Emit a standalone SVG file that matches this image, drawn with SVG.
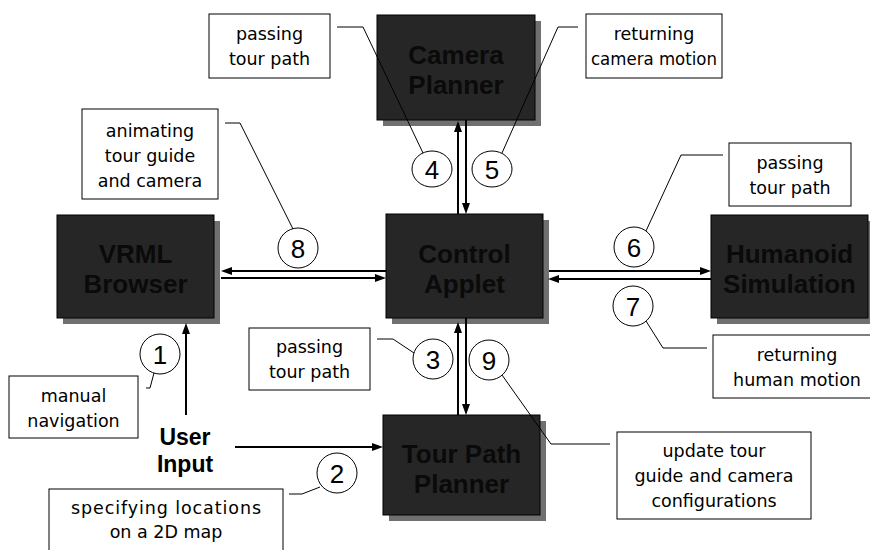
<svg xmlns="http://www.w3.org/2000/svg" width="870" height="550" viewBox="0 0 870 550">
<defs>
<marker id="ah" markerUnits="userSpaceOnUse" markerWidth="11" markerHeight="8" refX="3" refY="4" orient="auto">
<path d="M0,0 L11,4 L0,8 z" fill="#000"/>
</marker>
<style>
.shadow{fill:#707070}
.box{fill:#262626;stroke:#000;stroke-width:1}
.bl{font-family:"Liberation Sans",Arial,sans-serif;font-weight:bold;font-size:26px;fill:#0a0a0a;text-anchor:middle}
.ui{font-family:"Liberation Sans",Arial,sans-serif;font-weight:bold;font-size:23px;fill:#000;text-anchor:middle}
.arrow{fill:none;stroke:#000;stroke-width:2;marker-end:url(#ah)}
.note{fill:#fff;stroke:#000;stroke-width:1}
.nt{font-family:"DejaVu Sans",sans-serif;font-size:17.5px;fill:#000;text-anchor:middle}
.lead{fill:none;stroke:#000;stroke-width:1}
.num{fill:#fff;stroke:#000;stroke-width:1}
.nn{font-family:"Liberation Sans",Arial,sans-serif;font-size:26px;fill:#000;text-anchor:middle}
</style>
</defs>
<rect width="870" height="550" fill="#fff"/>

<g id="camera-planner">
<rect class="shadow" x="383" y="21" width="158" height="105"/>
<rect class="box" x="377" y="15" width="158" height="105"/>
<text class="bl" x="456" y="64">Camera</text>
<text class="bl" x="456" y="94">Planner</text>
</g>
<g id="vrml-browser">
<rect class="shadow" x="63" y="221" width="157" height="103"/>
<rect class="box" x="57" y="215" width="157" height="103"/>
<text class="bl" x="135.5" y="263">VRML</text>
<text class="bl" x="135.5" y="293">Browser</text>
</g>
<g id="control-applet">
<rect class="shadow" x="392" y="220" width="157" height="104"/>
<rect class="box" x="386" y="214" width="157" height="104"/>
<text class="bl" x="464.5" y="263">Control</text>
<text class="bl" x="464.5" y="293">Applet</text>
</g>
<g id="humanoid-simulation">
<rect class="shadow" x="717" y="221" width="157" height="103"/>
<rect class="box" x="711" y="215" width="157" height="103"/>
<text class="bl" x="789.5" y="263">Humanoid</text>
<text class="bl" x="789.5" y="293">Simulation</text>
</g>
<g id="tour-path-planner">
<rect class="shadow" x="389" y="421" width="157" height="100"/>
<rect class="box" x="383" y="415" width="157" height="100"/>
<text class="bl" x="461.5" y="463">Tour Path</text>
<text class="bl" x="461.5" y="493">Planner</text>
</g>
<g id="user-input">
<text class="ui" x="185" y="445">User</text>
<text class="ui" x="185" y="472">Input</text>
</g>

<g id="connectors">
<path class="arrow" d="M458,214 V129"/>
<path class="arrow" d="M466,120 V206"/>
<path class="arrow" d="M458,415 V330"/>
<path class="arrow" d="M466,318 V407"/>
<path class="arrow" d="M386,271 H229"/>
<path class="arrow" d="M221,278 H378"/>
<path class="arrow" d="M549,271 H703"/>
<path class="arrow" d="M711,279 H556"/>
<path class="arrow" d="M186,415 V331"/>
<path class="arrow" d="M235,447 H375"/>
</g>

<g id="callout-1">
<rect class="note" x="9" y="376" width="129" height="62"/>
<text class="nt" x="73.5" y="401.5">manual</text>
<text class="nt" x="73.5" y="426.5">navigation</text>
<path class="lead" d="M146,388 H150 L154,373"/>
<circle class="num" cx="160" cy="354" r="20"/>
<text class="nn" x="160" y="363.5">1</text>
</g>
<g id="callout-2">
<rect class="note" x="49" y="489" width="234" height="80"/>
<text class="nt" x="166" y="514" textLength="190" lengthAdjust="spacing">specifying locations</text>
<text class="nt" x="166" y="538">on a 2D map</text>
<path class="lead" d="M289,494 H302 L320,487"/>
<circle class="num" cx="337" cy="473" r="20"/>
<text class="nn" x="337" y="482.5">2</text>
</g>
<g id="callout-3">
<rect class="note" x="249" y="328" width="121" height="62"/>
<text class="nt" x="309.5" y="353">passing</text>
<text class="nt" x="309.5" y="378">tour path</text>
<path class="lead" d="M377,339 H393 L414,353"/>
<circle class="num" cx="433" cy="359" r="20"/>
<text class="nn" x="433" y="368.5">3</text>
</g>
<g id="callout-4">
<rect class="note" x="209" y="14" width="121" height="64"/>
<text class="nt" x="269.5" y="40">passing</text>
<text class="nt" x="269.5" y="65">tour path</text>
<path class="lead" d="M337,27 H363 L423,153"/>
<ellipse class="num" cx="432" cy="169" rx="20" ry="18"/>
<text class="nn" x="432" y="178.5">4</text>
</g>
<g id="callout-5">
<rect class="note" x="586" y="14" width="136" height="64"/>
<text class="nt" x="654" y="40">returning</text>
<text class="nt" x="654" y="65" textLength="126" lengthAdjust="spacingAndGlyphs">camera motion</text>
<path class="lead" d="M578,27 H558 L502,153"/>
<ellipse class="num" cx="492" cy="169" rx="20" ry="18"/>
<text class="nn" x="492" y="178.5">5</text>
</g>
<g id="callout-6">
<rect class="note" x="729" y="143" width="122" height="63"/>
<text class="nt" x="790" y="168.5">passing</text>
<text class="nt" x="790" y="194">tour path</text>
<path class="lead" d="M723,155 H681 L646,231"/>
<circle class="num" cx="634" cy="247" r="20"/>
<text class="nn" x="634" y="256.5">6</text>
</g>
<g id="callout-7">
<rect class="note" x="713" y="335" width="168" height="63"/>
<text class="nt" x="797" y="360.5">returning</text>
<text class="nt" x="797" y="386">human motion</text>
<path class="lead" d="M707,348 H663 L646,321"/>
<circle class="num" cx="633" cy="306" r="20"/>
<text class="nn" x="633" y="315.5">7</text>
</g>
<g id="callout-8">
<rect class="note" x="82" y="109" width="136" height="90"/>
<text class="nt" x="150" y="137">animating</text>
<text class="nt" x="150" y="162">tour guide</text>
<text class="nt" x="150" y="187">and camera</text>
<path class="lead" d="M225,123 H240 L293,229"/>
<circle class="num" cx="298" cy="248" r="20"/>
<text class="nn" x="298" y="257.5">8</text>
</g>
<g id="callout-9">
<rect class="note" x="617" y="432" width="194" height="87"/>
<text class="nt" x="714" y="457">update tour</text>
<text class="nt" x="714" y="482">guide and camera</text>
<text class="nt" x="714" y="507">configurations</text>
<path class="lead" d="M610,444 H551 L502,375"/>
<circle class="num" cx="489" cy="360" r="20"/>
<text class="nn" x="489" y="369.5">9</text>
</g>
</svg>
